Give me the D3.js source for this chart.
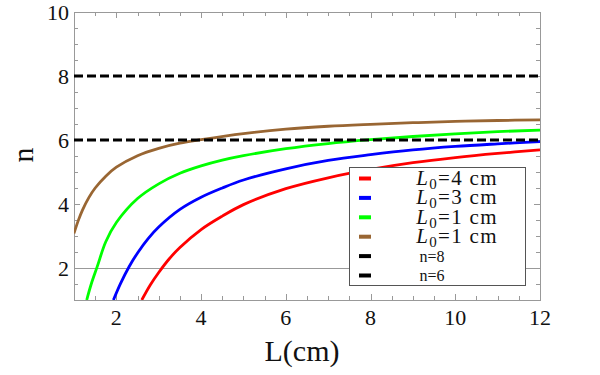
<!DOCTYPE html>
<html>
<head>
<meta charset="utf-8">
<title>n vs L</title>
<script src="https://cdn.jsdelivr.net/npm/d3@7"></script>
<style>
  body { margin: 0; background: #fff; }
  svg text { font-family: "Liberation Serif", "Times New Roman", serif; fill: #111; }
</style>
</head>
<body>
<svg id="canvas" width="600" height="375"></svg>
<script>
// values (L in cm, n)
var redL   = [2.6, 2.8, 3, 3.25, 3.5, 4, 4.5, 5, 6, 7, 8, 9, 10, 11, 12];
var redN   = [1.0, 1.47, 1.86, 2.29, 2.64, 3.2, 3.62, 3.98, 4.48, 4.82, 5.08, 5.29, 5.45, 5.58, 5.69];
var blueL  = [1.93, 2.1, 2.3, 2.5, 2.75, 3, 3.5, 4, 4.5, 5, 6, 7, 8, 9, 10, 11, 12];
var blueN  = [1.0, 1.52, 2.04, 2.47, 2.92, 3.28, 3.83, 4.21, 4.5, 4.75, 5.1, 5.36, 5.54, 5.69, 5.8, 5.88, 5.95];
var greenL = [1.3, 1.4, 1.55, 1.75, 2, 2.5, 3, 3.5, 4, 4.5, 5, 6, 7, 8, 9, 10, 11, 12];
var greenN = [1.0, 1.47, 2.05, 2.82, 3.42, 4.17, 4.63, 4.96, 5.19, 5.37, 5.51, 5.73, 5.89, 6.01, 6.11, 6.19, 6.26, 6.31];
var brownL = [1, 1.1, 1.2, 1.35, 1.5, 1.75, 2, 2.5, 3, 3.5, 4, 5, 6, 7, 8, 9, 10, 11, 12];
var brownN = [3.08, 3.48, 3.81, 4.2, 4.5, 4.87, 5.15, 5.51, 5.74, 5.9, 6.01, 6.2, 6.34, 6.43, 6.49, 6.54, 6.58, 6.61, 6.63];
var levels = [8, 6];
var legendL0 = ["4", "3", "1", "1"];
var legendN  = ["n=8", "n=6"];
var xTicks = [2, 4, 6, 8, 10, 12];
var yTicks = [2, 4, 6, 8, 10];

var svg = d3.select("#canvas");
var pLeft = 74, pRight = 540, pTop = 12, pBottom = 300;

var x = d3.scaleLinear().domain([1, 12]).range([pLeft, pRight]);
var y = d3.scaleLinear().domain([1, 10]).range([pBottom, pTop]);

svg.append("clipPath").attr("id", "plotclip")
  .append("rect")
    .attr("x", pLeft).attr("y", pTop)
    .attr("width", pRight - pLeft).attr("height", pBottom - pTop);

// grid line at n=2
svg.append("line")
  .attr("x1", pLeft).attr("x2", pRight)
  .attr("y1", y(2) + 0.5).attr("y2", y(2) + 0.5)
  .style("stroke", "#999").style("stroke-width", 1);

// frame
svg.append("rect")
  .attr("x", pLeft + 0.5).attr("y", pTop + 0.5)
  .attr("width", pRight - pLeft).attr("height", pBottom - pTop)
  .style("fill", "none").style("stroke", "#999").style("stroke-width", 1);

// ticks on all four sides, majors every 2, minors every 0.5
var frame = svg.append("g").style("stroke", "#999").style("stroke-width", 1);
d3.range(1, 12.01, 0.5).forEach(function(v) {
  var len = (v % 2 === 0) ? 6 : 4;
  var px = Math.round(x(v)) + 0.5;
  frame.append("line").attr("x1", px).attr("x2", px).attr("y1", pBottom).attr("y2", pBottom - len);
  frame.append("line").attr("x1", px).attr("x2", px).attr("y1", pTop).attr("y2", pTop + len);
});
d3.range(1, 10.01, 0.5).forEach(function(v) {
  var len = (v % 2 === 0) ? 6 : 4;
  var py = Math.round(y(v)) + 0.5;
  frame.append("line").attr("x1", pLeft).attr("x2", pLeft + len).attr("y1", py).attr("y2", py);
  frame.append("line").attr("x1", pRight).attr("x2", pRight - len).attr("y1", py).attr("y2", py);
});

// tick labels
svg.selectAll(".xlab").data(xTicks).enter().append("text")
  .attr("class", "xlab")
  .attr("x", function(d) { return x(d); })
  .attr("y", 325)
  .attr("text-anchor", "middle")
  .style("font-size", "22px")
  .text(function(d) { return d; });
svg.selectAll(".ylab").data(yTicks).enter().append("text")
  .attr("class", "ylab")
  .attr("x", 69)
  .attr("y", function(d) { return y(d) + 7.5; })
  .attr("text-anchor", "end")
  .style("font-size", "22px")
  .text(function(d) { return d; });

// axis titles
svg.append("text")
  .attr("x", 302).attr("y", 361)
  .attr("text-anchor", "middle")
  .style("font-size", "30px")
  .text("L(cm)");
svg.append("text")
  .attr("transform", "translate(33,155) rotate(-90)")
  .attr("text-anchor", "middle")
  .style("font-size", "30px")
  .text("n");

// curves
var series = [
  { L: redL,   n: redN,   color: "#ff0000" },
  { L: blueL,  n: blueN,  color: "#0000ff" },
  { L: greenL, n: greenN, color: "#00ff00" },
  { L: brownL, n: brownN, color: "#996633" }
];
var line = d3.line()
  .x(function(d) { return x(d[0]); })
  .y(function(d) { return y(d[1]); })
  .curve(d3.curveCatmullRom.alpha(0.5));

var plot = svg.append("g").attr("clip-path", "url(#plotclip)");
series.forEach(function(s) {
  plot.append("path")
    .datum(d3.zip(s.L, s.n))
    .attr("d", line)
    .style("fill", "none")
    .style("stroke", s.color)
    .style("stroke-width", 2.8);
});

// dashed levels
levels.forEach(function(v) {
  plot.append("line")
    .attr("x1", pLeft).attr("x2", pRight)
    .attr("y1", y(v)).attr("y2", y(v))
    .style("stroke", "#000")
    .style("stroke-width", 3)
    .style("stroke-dasharray", "9,4");
});

// legend
var legend = svg.append("g");
legend.append("rect")
  .attr("x", 349.5).attr("y", 167.5)
  .attr("width", 176).attr("height", 118)
  .style("fill", "#fff").style("stroke", "#555").style("stroke-width", 1);

var swatchColors = series.map(function(s) { return s.color; }).concat(["#000", "#000"]);
for (var i = 0; i < 6; i++) {
  var ry = 178.5 + i * 19.4;
  legend.append("line")
    .attr("x1", 359).attr("x2", 371)
    .attr("y1", ry).attr("y2", ry)
    .style("stroke", swatchColors[i]).style("stroke-width", 4);
  if (i < 4) {
    var t = legend.append("text")
      .attr("x", 457).attr("y", ry + 6.5)
      .attr("text-anchor", "middle")
      .style("font-size", "21px")
      .style("letter-spacing", "1.3px");
    t.append("tspan").style("font-style", "italic").text("L");
    t.append("tspan").attr("dy", 4).style("font-size", "15px").text("0");
    t.append("tspan").attr("dy", -4).text("=" + legendL0[i] + " cm");
  } else {
    legend.append("text")
      .attr("x", 432).attr("y", ry + 5.5)
      .attr("text-anchor", "middle")
      .style("font-size", "16px")
      .text(legendN[i - 4]);
  }
}
</script>
</body>
</html>
